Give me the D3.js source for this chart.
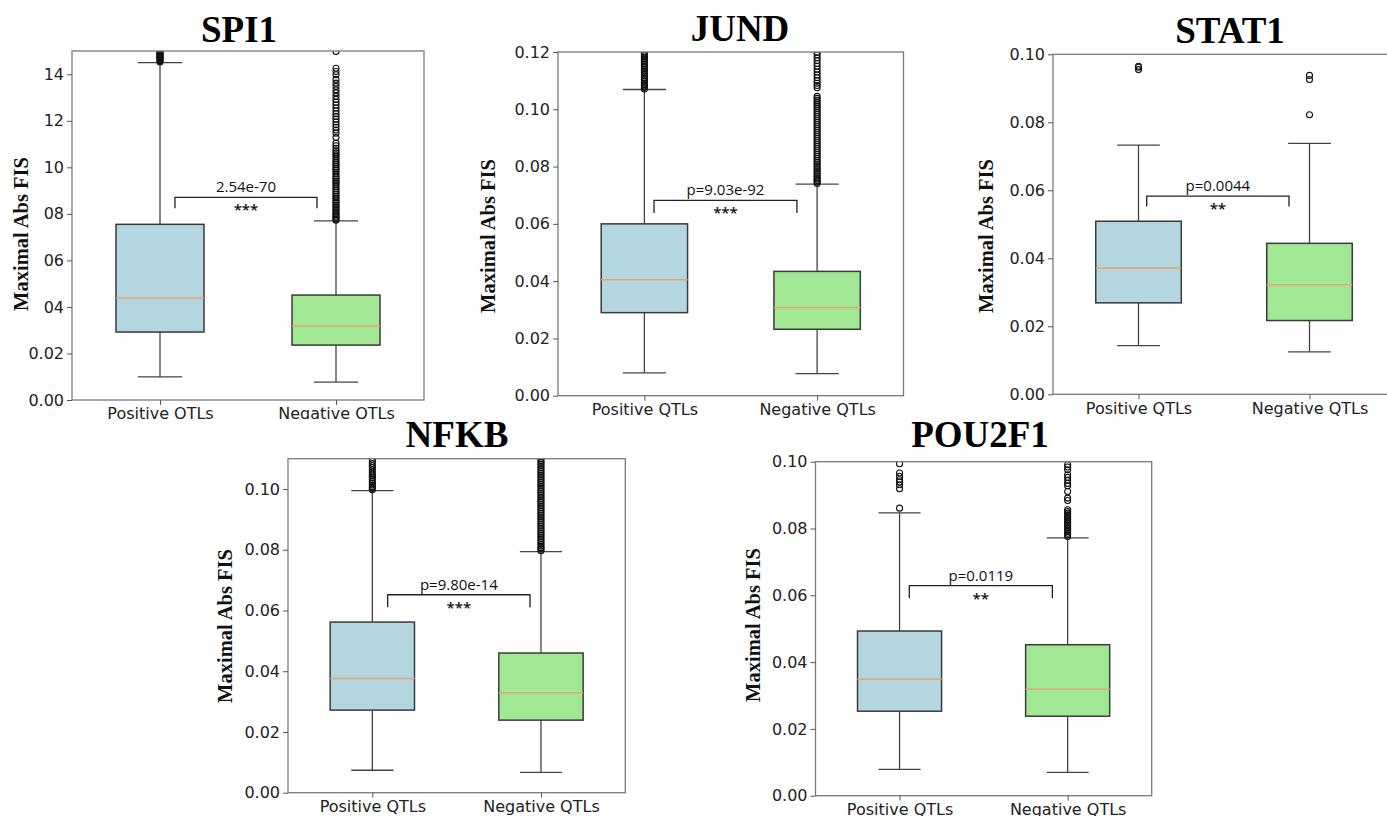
<!DOCTYPE html>
<html lang="en">
<head>
    <meta charset="UTF-8">
    <title>Maximal Abs FIS: Positive vs Negative QTLs</title>
    <style>
        body {
            margin: 0;
            background-color: #fff;
        }
        svg {
            display: block;
        }
        .tick text {
            font-family: 'DejaVu Sans', sans-serif;
            font-size: 16px;
            fill: #222;
        }
        .tick line {
            stroke: #555;
        }
        .title {
            font-family: 'Liberation Serif', 'Times New Roman', serif;
            font-weight: bold;
            font-size: 37px;
            fill: #000;
            text-anchor: middle;
        }
        .ylabel {
            font-family: 'Liberation Serif', 'Times New Roman', serif;
            font-weight: bold;
            font-size: 20.5px;
            fill: #111;
            text-anchor: middle;
        }
        .pval {
            font-family: 'Open Sans', sans-serif;
            font-size: 15px;
            fill: #111;
            text-anchor: middle;
        }
    </style>
</head>
<body>
    <div id="chart"></div>

    <script src="https://d3js.org/d3.v7.min.js"></script>
    <script>
        // ---- data ----
        const panelNames = ["SPI1", "JUND", "STAT1", "NFKB", "POU2F1"];
        const groups = ["Positive QTLs", "Negative QTLs"];
        const yMax = [0.15, 0.12, 0.10, 0.11, 0.10];

        const yTickValues = [
            [0, 0.02, 0.04, 0.06, 0.08, 0.10, 0.12, 0.14],
            [0, 0.02, 0.04, 0.06, 0.08, 0.10, 0.12],
            [0, 0.02, 0.04, 0.06, 0.08, 0.10],
            [0, 0.02, 0.04, 0.06, 0.08, 0.10],
            [0, 0.02, 0.04, 0.06, 0.08, 0.10]
        ];
        const yTickLabels = [
            ["0.00", "0.02", "04", "06", "08", "10", "12", "14"],
            ["0.00", "0.02", "0.04", "0.06", "0.08", "0.10", "0.12"],
            ["0.00", "0.02", "0.04", "0.06", "0.08", "0.10"],
            ["0.00", "0.02", "0.04", "0.06", "0.08", "0.10"],
            ["0.00", "0.02", "0.04", "0.06", "0.08", "0.10"]
        ];

        // [lower whisker, Q1, median, Q3, upper whisker]
        const positiveStats = [
            [0.0099, 0.0292, 0.0438, 0.0755, 0.1450],
            [0.0080, 0.0290, 0.0405, 0.0600, 0.1069],
            [0.0143, 0.0269, 0.0371, 0.0509, 0.0733],
            [0.0074, 0.0272, 0.0376, 0.0562, 0.0995],
            [0.0079, 0.0253, 0.0349, 0.0493, 0.0847]
        ];
        const negativeStats = [
            [0.0077, 0.0236, 0.0318, 0.0451, 0.0770],
            [0.0077, 0.0232, 0.0308, 0.0434, 0.0739],
            [0.0125, 0.0217, 0.0322, 0.0444, 0.0738],
            [0.0067, 0.0239, 0.0329, 0.0460, 0.0794],
            [0.0070, 0.0238, 0.0319, 0.0452, 0.0772]
        ];

        const positiveOutliers = [
            [0.1453, 0.1458, 0.1462, 0.1467, 0.1471, 0.1476, 0.1480, 0.1485, 0.1490, 0.1494, 0.1499],
            [0.1071, 0.1076, 0.1081, 0.1086, 0.1092, 0.1098, 0.1104, 0.1110, 0.1116, 0.1122, 0.1128,
             0.1134, 0.1140, 0.1146, 0.1152, 0.1158, 0.1164, 0.1170, 0.1176, 0.1182, 0.1188, 0.1194, 0.1199],
            [0.0955, 0.0962, 0.0965],
            [0.0998, 0.1003, 0.1008, 0.1013, 0.1019, 0.1025, 0.1031, 0.1037, 0.1043, 0.1049, 0.1056,
             0.1063, 0.1070, 0.1077, 0.1084, 0.1091, 0.1098],
            [0.0861, 0.0919, 0.0931, 0.0939, 0.0946, 0.0956, 0.0966, 0.0994]
        ];
        const negativeOutliers = [
            [0.0773, 0.0778, 0.0784, 0.0790, 0.0795, 0.0801, 0.0808, 0.0815, 0.0822, 0.0830, 0.0837,
             0.0845, 0.0852, 0.0860, 0.0868, 0.0875, 0.0884, 0.0892, 0.0900, 0.0908, 0.0917, 0.0925,
             0.0933, 0.0940, 0.0948, 0.0955, 0.0963, 0.0972, 0.0980, 0.0988, 0.0995, 0.1003, 0.1012,
             0.1020, 0.1028, 0.1036, 0.1045, 0.1053, 0.1062, 0.1071, 0.1082, 0.1093, 0.1104, 0.1128,
             0.1147, 0.1160, 0.1172, 0.1183, 0.1195, 0.1207, 0.1219, 0.1230, 0.1242, 0.1255, 0.1268,
             0.1280, 0.1292, 0.1305, 0.1320, 0.1333, 0.1348, 0.1362, 0.1378, 0.1398, 0.1412, 0.1426, 0.1498],
            [0.0741, 0.0746, 0.0751, 0.0756, 0.0761, 0.0767, 0.0773, 0.0779, 0.0785, 0.0791, 0.0797,
             0.0803, 0.0809, 0.0815, 0.0821, 0.0828, 0.0835, 0.0842, 0.0849, 0.0856, 0.0863, 0.0870,
             0.0877, 0.0884, 0.0891, 0.0898, 0.0905, 0.0912, 0.0919, 0.0926, 0.0933, 0.0940, 0.0947,
             0.0954, 0.0961, 0.0968, 0.0975, 0.0982, 0.0989, 0.0996, 0.1003, 0.1010, 0.1017, 0.1024,
             0.1031, 0.1038, 0.1045, 0.1075, 0.1083, 0.1091, 0.1100, 0.1110, 0.1120, 0.1130, 0.1140,
             0.1150, 0.1160, 0.1170, 0.1180, 0.1190, 0.1198],
            [0.0822, 0.0926, 0.0938],
            [0.0797, 0.0802, 0.0807, 0.0812, 0.0818, 0.0824, 0.0830, 0.0836, 0.0842, 0.0848, 0.0854,
             0.0860, 0.0866, 0.0872, 0.0878, 0.0884, 0.0890, 0.0896, 0.0902, 0.0908, 0.0914, 0.0920,
             0.0926, 0.0932, 0.0938, 0.0944, 0.0950, 0.0956, 0.0962, 0.0968, 0.0974, 0.0980, 0.0986,
             0.0992, 0.0998, 0.1004, 0.1010, 0.1016, 0.1022, 0.1028, 0.1034, 0.1040, 0.1046, 0.1052,
             0.1058, 0.1064, 0.1070, 0.1076, 0.1082, 0.1088, 0.1094, 0.1100],
            [0.0776, 0.0781, 0.0786, 0.0791, 0.0796, 0.0801, 0.0806, 0.0811, 0.0816, 0.0821, 0.0826,
             0.0831, 0.0836, 0.0841, 0.0846, 0.0851, 0.0856, 0.0884, 0.0891, 0.0911, 0.0928, 0.0935,
             0.0944, 0.0953, 0.0961, 0.0976, 0.0984, 0.0991]
        ];

        const pLabels = ["2.54e-70", "p=9.03e-92", "p=0.0044", "p=9.80e-14", "p=0.0119"];
        const starLabels = ["***", "***", "**", "***", "**"];
        const bracketTop = [0.0871, 0.0682, 0.0583, 0.0652, 0.0629];
        const bracketFoot = [0.0824, 0.0638, 0.0552, 0.0611, 0.0591];

        // ---- layout (pixels) ----
        const frames = [
            { left: 72, right: 424, top: 51, bottom: 400 },
            { left: 558, right: 903.5, top: 52, bottom: 395.7 },
            { left: 1053, right: 1395, top: 54.3, bottom: 394.3 },
            { left: 288, right: 625.3, top: 458.7, bottom: 792.7 },
            { left: 815.5, right: 1151.7, top: 461.7, bottom: 795.7 }
        ];
        const titlePos = [[239, 42], [740, 40.5], [1230, 42.5], [457, 446.5], [980, 447]];
        const ylabelPos = [[28, 234], [495, 236], [993, 236], [231.5, 626], [760, 625]];
        const bracketX = [[1.085, 1.892], [1.056, 1.883], [1.048, 1.880], [1.091, 1.935], [1.058, 1.909]];

        const boxFill = ["#b3d6e1", "#a2e894"];

        const W = 1387, H = 816;
        const svg = d3.select("#chart").append("svg")
            .attr("width", W)
            .attr("height", H);

        const defs = svg.append("defs");
        defs.append("clipPath").attr("id", "topRow")
            .append("rect").attr("x", 0).attr("y", 0).attr("width", W).attr("height", 419);

        const topLayer = svg.append("g").attr("clip-path", "url(#topRow)");
        const bottomLayer = svg.append("g");
        bottomLayer.append("rect")
            .attr("x", 0).attr("y", 419).attr("width", W).attr("height", H - 419)
            .attr("fill", "#fff");

        panelNames.forEach((name, i) => {
            const f = frames[i];
            const layer = i < 3 ? topLayer : bottomLayer;
            const g = layer.append("g");

            const x = d3.scalePoint().domain(groups).range([f.left, f.right]).padding(0.5);
            const xNum = d3.scaleLinear().domain([0.5, 2.5]).range([f.left, f.right]);
            const y = d3.scaleLinear().domain([0, yMax[i]]).range([f.bottom, f.top]);
            const boxW = x.step() / 2;

            defs.append("clipPath").attr("id", "plot" + i)
                .append("rect")
                .attr("x", f.left).attr("y", f.top)
                .attr("width", f.right - f.left).attr("height", f.bottom - f.top);

            const plot = g.append("g").attr("clip-path", `url(#plot${i})`);

            const sets = [
                { stats: positiveStats[i], out: positiveOutliers[i], grp: groups[0], fill: boxFill[0] },
                { stats: negativeStats[i], out: negativeOutliers[i], grp: groups[1], fill: boxFill[1] }
            ];

            sets.forEach(s => {
                const cx = x(s.grp);
                const [lo, q1, med, q3, hi] = s.stats;
                // whiskers
                plot.append("line")
                    .attr("x1", cx).attr("x2", cx).attr("y1", y(q1)).attr("y2", y(lo))
                    .attr("stroke", "#444").attr("stroke-width", 1.3);
                plot.append("line")
                    .attr("x1", cx).attr("x2", cx).attr("y1", y(q3)).attr("y2", y(hi))
                    .attr("stroke", "#444").attr("stroke-width", 1.3);
                [lo, hi].forEach(v => {
                    plot.append("line")
                        .attr("x1", cx - boxW / 4).attr("x2", cx + boxW / 4)
                        .attr("y1", y(v)).attr("y2", y(v))
                        .attr("stroke", "#444").attr("stroke-width", 1.3);
                });
                // box
                plot.append("rect")
                    .attr("x", cx - boxW / 2).attr("y", y(q3))
                    .attr("width", boxW).attr("height", y(q1) - y(q3))
                    .attr("fill", s.fill)
                    .attr("stroke", "#3a3a3a").attr("stroke-width", 1.5);
                plot.append("line")
                    .attr("x1", cx - boxW / 2).attr("x2", cx + boxW / 2)
                    .attr("y1", y(med)).attr("y2", y(med))
                    .attr("stroke", "#e3a66c").attr("stroke-width", 1.5);
                // fliers
                plot.selectAll(null)
                    .data(s.out)
                    .enter().append("circle")
                    .attr("cx", cx).attr("cy", d => y(d)).attr("r", 3)
                    .attr("fill", "none")
                    .attr("stroke", "#111").attr("stroke-width", 1.1);
            });

            // frame
            g.append("rect")
                .attr("x", f.left).attr("y", f.top)
                .attr("width", f.right - f.left).attr("height", f.bottom - f.top)
                .attr("fill", "none").attr("stroke", "#7a7a7a").attr("stroke-width", 1.3);

            // axes
            const yAxis = g.append("g")
                .attr("transform", `translate(${f.left},0)`)
                .call(d3.axisLeft(y)
                    .tickValues(yTickValues[i])
                    .tickFormat((d, k) => yTickLabels[i][k])
                    .tickSize(5).tickPadding(3));
            yAxis.select(".domain").remove();

            const xAxis = g.append("g")
                .attr("transform", `translate(0,${f.bottom})`)
                .call(d3.axisBottom(x).tickSize(5).tickPadding(3));
            xAxis.select(".domain").remove();

            // significance bracket
            const bx0 = xNum(bracketX[i][0]), bx1 = xNum(bracketX[i][1]);
            const by = y(bracketTop[i]), bf = y(bracketFoot[i]);
            g.append("path")
                .attr("d", `M${bx0},${bf}V${by}H${bx1}V${bf}`)
                .attr("fill", "none").attr("stroke", "#222").attr("stroke-width", 1.3);
            g.append("text")
                .attr("class", "pval")
                .attr("x", (bx0 + bx1) / 2).attr("y", by - 5)
                .text(pLabels[i]);
            g.append("text")
                .attr("class", "pval")
                .attr("x", (bx0 + bx1) / 2).attr("y", by + 18)
                .style("font-weight", "600")
                .text(starLabels[i]);

            // titles
            g.append("text")
                .attr("class", "title")
                .attr("x", titlePos[i][0]).attr("y", titlePos[i][1])
                .text(name);
            g.append("text")
                .attr("class", "ylabel")
                .attr("transform", `translate(${ylabelPos[i][0]},${ylabelPos[i][1]}) rotate(-90)`)
                .text("Maximal Abs FIS");
        });
    </script>
</body>
</html>
